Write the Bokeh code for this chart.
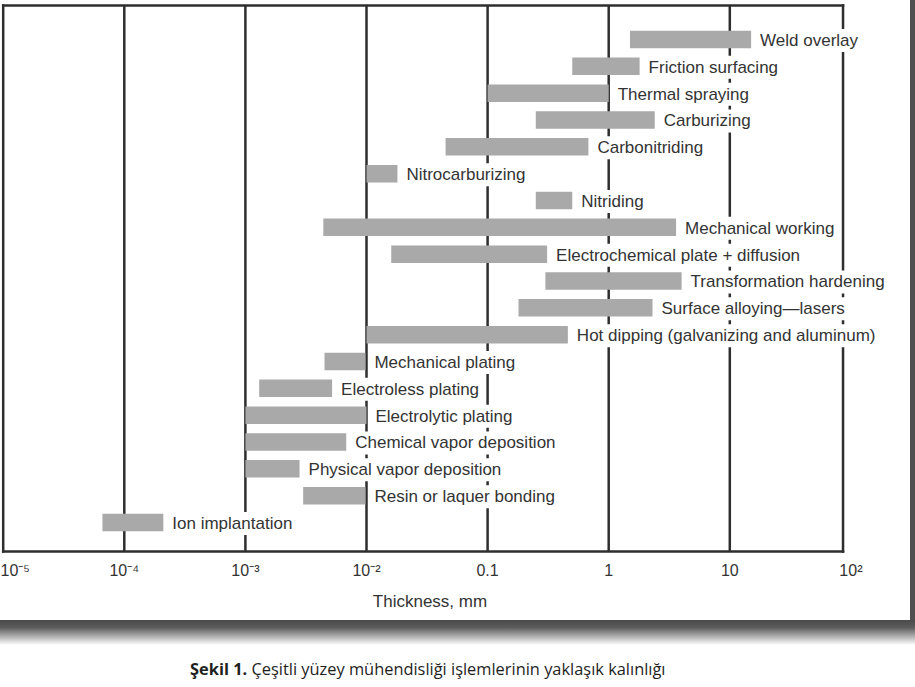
from bokeh.plotting import figure
from bokeh.models import Range1d, FixedTicker, Div, ColumnDataSource
from bokeh.layouts import column, row
from bokeh.core.properties import value
from bokeh.embed import file_html
from bokeh.resources import INLINE

# ---- data (thickness range, mm) ----
processes = [
    "Weld overlay", "Friction surfacing", "Thermal spraying", "Carburizing",
    "Carbonitriding", "Nitrocarburizing", "Nitriding", "Mechanical working",
    "Electrochemical plate + diffusion", "Transformation hardening",
    "Surface alloying\u2014lasers", "Hot dipping (galvanizing and aluminum)",
    "Mechanical plating", "Electroless plating", "Electrolytic plating",
    "Chemical vapor deposition", "Physical vapor deposition",
    "Resin or laquer bonding", "Ion implantation",
]
thick_min = [1.5, 0.5, 0.1, 0.25, 0.045, 0.01, 0.25, 0.0044, 0.016, 0.3, 0.18,
             0.01, 0.0045, 0.0013, 0.001, 0.001, 0.001, 0.003, 6.6e-5]
thick_max = [15.0, 1.8, 1.0, 2.4, 0.68, 0.018, 0.5, 3.6, 0.31, 4.0, 2.3,
             0.46, 0.0098, 0.0052, 0.01, 0.0068, 0.0028, 0.0098, 2.1e-4]

tick_values = [1e-5, 1e-4, 1e-3, 1e-2, 0.1, 1.0, 10.0, 100.0]
tick_text = ["10\u207b\u2075", "10\u207b\u2074", "10\u207b\u00b3", "10\u207b\u00b2",
             "0.1", "1", "10", "10\u00b2"]
grid_values = [1e-4, 1e-3, 1e-2, 0.1, 1.0, 10.0]
x_label = "Thickness, mm"
caption_bold = "Şekil 1."
caption_rest = "Çeşitli yüzey mühendisliği işlemlerinin yaklaşık kalınlığı"

# ---- styling / layout constants ----
FONT = "Liberation Sans"
TXT = "#333333"
LINE = "#2e2e2e"
BAR = "#a9a9a9"
PX_DEC = 121.1          # pixels per decade
X0_PX = 2.7             # pixel of 1e-5
ROW_PX = 26.833         # pixels per row
W, H = 910, 620
FRAME_TOP, FRAME_BOT = 3, 553
BOX_TOP, BOX_BOT = 5, 551
ROW0_PX = 39

n = len(processes)
rows = [-i for i in range(n)]

x_start = 10 ** (-5 - X0_PX / PX_DEC)
x_end = 10 ** (-5 + (W - X0_PX) / PX_DEC)
box_left = 1e-5
box_right = 10 ** 1.935
y_top = (ROW0_PX - FRAME_TOP) / ROW_PX
y_bot = -(n - 1) - (FRAME_BOT - (ROW0_PX + (n - 1) * ROW_PX)) / ROW_PX
box_top = (ROW0_PX - BOX_TOP) / ROW_PX
box_bot = -(n - 1) - (BOX_BOT - (ROW0_PX + (n - 1) * ROW_PX)) / ROW_PX

src = ColumnDataSource(dict(name=processes, lo=thick_min, hi=thick_max, y=rows))

p = figure(width=W, height=H, x_axis_type="log",
           x_range=Range1d(x_start, x_end), y_range=Range1d(y_bot, y_top),
           y_axis_location=None, output_backend="svg", toolbar_location=None,
           min_border_left=0, min_border_right=0, min_border_top=FRAME_TOP,
           min_border_bottom=H - FRAME_BOT)
p.background_fill_color = "white"
p.border_fill_color = "white"
p.outline_line_color = None
p.xgrid.visible = False
p.ygrid.visible = False

ax = p.xaxis[0]
ax.ticker = FixedTicker(ticks=tick_values, minor_ticks=[])
ax.major_label_overrides = {t: s for t, s in zip(tick_values, tick_text)}
ax.major_tick_in = 0
ax.major_tick_out = 0
ax.minor_tick_line_color = None
ax.axis_line_color = None
ax.major_label_standoff = 8
ax.major_label_text_font = FONT
ax.major_label_text_font_size = "16px"
ax.major_label_text_color = TXT
# the frame runs wider than the drawn box, so pad the title to centre it under the box
ax.axis_label = x_label + "\u2003" * 3
ax.axis_label_standoff = 10
ax.axis_label_text_font = FONT
ax.axis_label_text_font_size = "17px"
ax.axis_label_text_font_style = "normal"
ax.axis_label_text_color = TXT

# decade lines and frame box
vx = grid_values
p.segment(x0=vx, x1=vx, y0=[box_bot] * len(vx), y1=[box_top] * len(vx),
          line_color=LINE, line_width=2.5)
p.segment(x0=[box_left, box_right, box_left, box_left],
          x1=[box_left, box_right, box_right, box_right],
          y0=[box_bot, box_bot, box_top, box_bot],
          y1=[box_top, box_top, box_top, box_bot],
          line_color=LINE, line_width=2.5, line_cap="square")

p.hbar(y="y", left="lo", right="hi", height=0.65, source=src,
       fill_color=BAR, line_color=None)
p.text(x="hi", y="y", text="name", source=src, x_offset=7, y_offset=1,
       text_align="left", text_baseline="middle",
       text_font=value(FONT), text_font_size="17px", text_color=TXT,
       background_fill_color="white", padding=2)

strip = Div(text="", width=5, height=H, margin=0,
            styles={"background-color": "#4f4f4f"})
band = Div(text="", width=915, height=25, margin=0,
           styles={"background": "linear-gradient(#4a4a4a, #5c5c5c 30%, #ffffff)"})
caption = Div(
    text=('<div style="padding:12px 0 0 190px;font-family:\'Open Sans\';font-size:16.4px;'
          'color:#1e1e1e;white-space:nowrap">'
          f'<b>{caption_bold}</b> {caption_rest}</div>'),
    width=915, height=42, margin=0)

layout = column(row(p, strip, spacing=0), band, caption, spacing=0)
open("out.html", "w").write(file_html(layout, INLINE))
